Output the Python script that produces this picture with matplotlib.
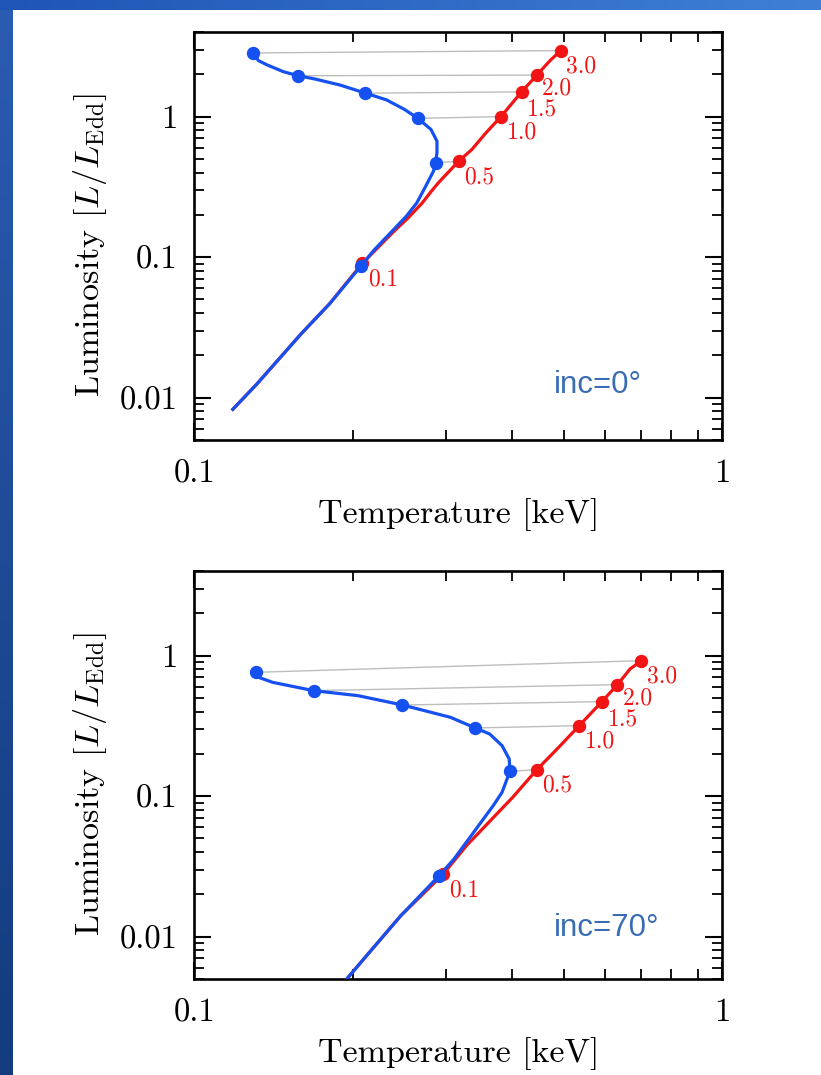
import numpy as np
import matplotlib
matplotlib.use('Agg')
from matplotlib import pyplot as plt
from matplotlib.colors import LinearSegmentedColormap
from matplotlib.ticker import FixedLocator, FixedFormatter, LogLocator, NullFormatter

plt.rcParams['font.family'] = 'serif'
plt.rcParams['font.serif'] = ['cmr10']
plt.rcParams['mathtext.fontset'] = 'cm'
plt.rcParams['axes.unicode_minus'] = False

# accretion rate labels of the marked points
mdot_labels = ['0.1', '0.5', '1.0', '1.5', '2.0', '3.0']

# inc = 0 deg, blue track
curve_blue_T0 = [0.1182, 0.1312, 0.1592, 0.1803, 0.2066, 0.2188, 0.2346, 0.2516, 0.2635,
                 0.2740, 0.2835, 0.2861, 0.2879, 0.2879, 0.2804, 0.2648, 0.2496, 0.2310,
                 0.2108, 0.1889, 0.1694, 0.1573, 0.1474, 0.1374, 0.1322, 0.1302, 0.1291]
curve_blue_L0 = [0.00827, 0.01249, 0.02846, 0.04666, 0.0863, 0.1123, 0.1478, 0.1946, 0.2424,
                 0.3190, 0.4087, 0.469, 0.5525, 0.6697, 0.8116, 0.973, 1.1285, 1.316,
                 1.469, 1.676, 1.850, 1.954, 2.087, 2.330, 2.502, 2.689, 2.84]
# inc = 0 deg, red track
curve_red_T0 = [0.1182, 0.1312, 0.1592, 0.1803, 0.2078, 0.2240, 0.2383, 0.2535, 0.2698, 0.2800,
                0.2900, 0.3165, 0.3352, 0.3566, 0.3806, 0.4005, 0.4164, 0.4450, 0.4713, 0.4938]
curve_red_L0 = [0.00827, 0.01249, 0.02846, 0.04666, 0.0902, 0.1200, 0.1520, 0.1893, 0.2424, 0.2900,
                0.3400, 0.4817, 0.5838, 0.7681, 1.0, 1.2593, 1.501, 1.976, 2.502, 2.951]
# inc = 0 deg, marked points
blue_T0 = [0.2066, 0.2861, 0.2648, 0.2108, 0.1573, 0.1291]
blue_L0 = [0.0863, 0.469, 0.973, 1.469, 1.954, 2.84]
red_T0 = [0.2078, 0.3165, 0.3806, 0.4164, 0.4450, 0.4938]
red_L0 = [0.0902, 0.4817, 1.0, 1.501, 1.976, 2.951]

# inc = 70 deg, blue track
curve_blue_T70 = [0.1825, 0.2171, 0.2459, 0.2906, 0.3101, 0.3378, 0.3679, 0.3824, 0.3957, 0.3945,
                  0.3824, 0.3623, 0.3404, 0.3053, 0.2477, 0.2040, 0.1681, 0.1406, 0.1322, 0.1306]
curve_blue_L70 = [0.0038, 0.00817, 0.01411, 0.02717, 0.03570, 0.05528, 0.08557, 0.1065, 0.1502, 0.1839,
                  0.2288, 0.2770, 0.3056, 0.3640, 0.4455, 0.5191, 0.5635, 0.6458, 0.7012, 0.761]
# inc = 70 deg, red track
curve_red_T70 = [0.1825, 0.2171, 0.2459, 0.2960, 0.3274, 0.4005, 0.4450, 0.4862, 0.5354, 0.5911,
                 0.6325, 0.6683, 0.7023]
curve_red_L70 = [0.0038, 0.00817, 0.01411, 0.02793, 0.04444, 0.0981, 0.1544, 0.2167, 0.3175, 0.4707,
                 0.622, 0.8036, 0.921]
# inc = 70 deg, marked points
blue_T70 = [0.2906, 0.3957, 0.3404, 0.2477, 0.1681, 0.1306]
blue_L70 = [0.02717, 0.1502, 0.3056, 0.4455, 0.5635, 0.761]
red_T70 = [0.2960, 0.4450, 0.5354, 0.5911, 0.6325, 0.7023]
red_L70 = [0.02793, 0.1544, 0.3175, 0.4707, 0.622, 0.921]

BLUE = '#1550f0'
RED = '#f21414'
INC_COLOR = '#3a6cb4'
# vertical offset (points) of each red label below its marker
label_dy = [-3.5, -3.5, -3.5, -5.0, -2.0, -3.5]

fig = plt.figure(figsize=(8.21, 10.75), dpi=100)

# slide border (blue strips at top and left)
bg = fig.add_axes([0, 0, 1, 1], zorder=-10)
bg.axis('off')
left_grad = np.linspace(0, 1, 256).reshape(-1, 1)
top_grad = np.linspace(0, 1, 256).reshape(1, -1)
cm_left = LinearSegmentedColormap.from_list('l', ['#2a5cb2', '#133b7e'])
cm_top = LinearSegmentedColormap.from_list('t', ['#1f55b5', '#3f80d6'])
bg.imshow(left_grad, cmap=cm_left, extent=[0, 13, 1075, 0], aspect='auto')
bg.imshow(top_grad, cmap=cm_top, extent=[0, 821, 10, 0], aspect='auto')
bg.set_xlim(0, 821)
bg.set_ylim(1075, 0)

panels = [
    (0.5907, curve_blue_T0, curve_blue_L0, curve_red_T0, curve_red_L0,
     blue_T0, blue_L0, red_T0, red_L0, 'inc=0°', 0.135),
    (0.0893, curve_blue_T70, curve_blue_L70, curve_red_T70, curve_red_L70,
     blue_T70, blue_L70, red_T70, red_L70, 'inc=70°', 0.125),
]

for (bottom, cbT, cbL, crT, crL, bT, bL, rT, rL, inc, inc_y) in panels:
    ax = fig.add_axes([0.2369, bottom, 0.6431, 0.3795])
    ax.set_xscale('log')
    ax.set_yscale('log')

    # grey lines joining the same accretion rate
    for i in range(len(mdot_labels)):
        ax.plot([bT[i], rT[i]], [bL[i], rL[i]], color='#bdbdbd', lw=1.0, zorder=1)

    ax.plot(crT, crL, color=RED, lw=2.3, zorder=2)
    ax.plot(rT, rL, 'o', color=RED, ms=8.6, zorder=3)
    ax.plot(cbT, cbL, color=BLUE, lw=2.3, zorder=4)
    ax.plot(bT, bL, 'o', color=BLUE, ms=8.6, zorder=5)

    for i, lab in enumerate(mdot_labels):
        ax.annotate(lab, (rT[i], rL[i]), xytext=(4.0, label_dy[i]), textcoords='offset points',
                    ha='left', va='top', color=RED, fontsize=17, zorder=6)

    ax.text(0.68, inc_y, inc, transform=ax.transAxes, fontsize=22.5, color=INC_COLOR,
            family=['Liberation Sans', 'DejaVu Sans'], ha='left', va='center')

    ax.set_xlim(0.1, 1)
    ax.set_ylim(0.005, 4)

    ax.xaxis.set_major_locator(FixedLocator([0.1, 1]))
    ax.xaxis.set_major_formatter(FixedFormatter(['0.1', '1']))
    ax.xaxis.set_minor_locator(LogLocator(base=10, subs=np.arange(2, 10), numticks=20))
    ax.xaxis.set_minor_formatter(NullFormatter())
    ax.yaxis.set_major_locator(FixedLocator([0.01, 0.1, 1]))
    ax.yaxis.set_major_formatter(FixedFormatter(['0.01', '0.1', '1']))
    ax.yaxis.set_minor_locator(LogLocator(base=10, subs=np.arange(2, 10), numticks=20))
    ax.yaxis.set_minor_formatter(NullFormatter())

    ax.tick_params(which='both', direction='in', top=True, right=True, color='black')
    ax.tick_params(which='major', length=12, width=1.5, labelsize=23.5)
    ax.tick_params(which='minor', length=7, width=1.3)
    ax.tick_params(axis='x', which='major', pad=14)
    ax.tick_params(axis='y', which='major', pad=12)
    for s in ax.spines.values():
        s.set_linewidth(1.9)

    ax.set_xlabel('Temperature [keV]', fontsize=24.5)
    ax.xaxis.set_label_coords(0.5, -0.143)
    ax.set_ylabel(r'Luminosity $[L/L_{\rm Edd}]$', fontsize=24.5)
    ax.yaxis.set_label_coords(-0.162, 0.478)

fig.savefig('out.png', dpi=100)
